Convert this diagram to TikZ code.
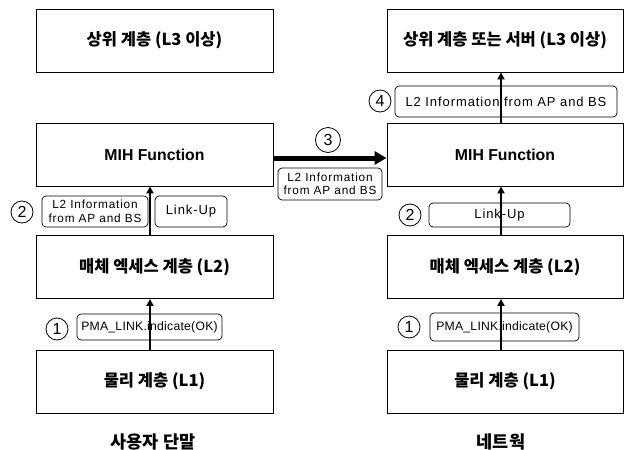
\documentclass[tikz,border=0pt]{standalone}
\usepackage{fontspec}
\setmainfont{Liberation Sans}
\newfontfamily\kr{Noto Sans CJK KR}
\newfontfamily\lbl[LetterSpace=7]{Liberation Sans}
\newfontfamily\lbltight[LetterSpace=2]{Liberation Sans}
\usetikzlibrary{arrows.meta}
\tikzset{
  layer/.style={draw, line width=0.9pt, minimum width=237pt, minimum height=63pt, inner sep=0pt,
    font=\kr\bfseries\fontsize{16.5}{19}\selectfont},
  mih/.style={layer, font=\bfseries\fontsize{15.8}{19}\selectfont},
  tag/.style={draw, rounded corners=4pt, line width=0.7pt, inner sep=0pt, align=center,
    font=\lbl\fontsize{13}{15}\selectfont},
  tagsmall/.style={tag, font=\lbl\fontsize{11.8}{13.5}\selectfont},
  tagpma/.style={tag, font=\lbltight\fontsize{12.2}{14}\selectfont},
  num/.style={draw, circle, line width=0.8pt, minimum size=22pt, inner sep=0pt,
    font=\fontsize{16}{16}\selectfont},
  uparrow/.style={line width=2.6pt, -{Triangle[length=7pt,width=7pt]}},
  bigarrow/.style={line width=5pt, -{Triangle[length=12pt,width=13pt]}},
  caption/.style={font=\kr\bfseries\fontsize{17.5}{20}\selectfont, inner sep=0pt}
}
\begin{document}
\begin{tikzpicture}[x=1pt,y=-1pt]
\useasboundingbox (0,0) rectangle (630,450);
% left column
\node[layer] (ltop) at (154.5,40.5) {상위 계층 (L3 이상)};
\node[mih] (lmih) at (154.5,154.5) {MIH Function};
\node[layer] (ll2) at (154.5,267) {매체 엑세스 계층 (L2)};
\node[layer] (ll1) at (154.5,381.5) {물리 계층 (L1)};
% right column
\node[layer, minimum width=236pt] (rtop) at (505,40.5) {상위 계층 또는 서버 (L3 이상)};
\node[mih, minimum width=236pt] (rmih) at (505,154.5) {MIH Function};
\node[layer, minimum width=236pt] (rl2) at (505,267) {매체 엑세스 계층 (L2)};
\node[layer, minimum width=236pt] (rl1) at (505,381.5) {물리 계층 (L1)};
% labels
\node[tagsmall, minimum width=106pt, minimum height=31pt] (linfo) at (95,211.5) {L2 Information\\from AP and BS};
\node[tag, minimum width=72pt, minimum height=31pt] (lup) at (191,211.5) {Link-Up};
\node[num] (n2l) at (22,212) {2};
\node[tagpma, minimum width=145pt, minimum height=26pt] (lpma) at (149.5,327) {PMA\_LINK.indicate(OK)};
\node[num] (n1l) at (57,329) {1};
\node[tagsmall, minimum width=104pt, minimum height=32pt] (minfo) at (330,184) {L2 Information\\from AP and BS};
\node[num, minimum size=25pt] (n3) at (328,140) {3};
\node[tag, minimum width=222pt, minimum height=31pt] (rinfo) at (506,101.5) {L2 Information from AP and BS};
\node[num] (n4) at (380,101) {4};
\node[tag, minimum width=141pt, minimum height=24pt] (rup) at (499.5,215) {Link-Up};
\node[num] (n2r) at (410,215) {2};
\node[tagpma, minimum width=149pt, minimum height=28pt] (rpma) at (504.5,327) {PMA\_LINK.indicate(OK)};
\node[num] (n1r) at (409,327) {1};
% arrows
\draw[uparrow] ([xshift=-4.5pt]ll1.north) -- ([xshift=-4.5pt]ll2.south);
\draw[uparrow] ([xshift=-4.5pt]ll2.north) -- ([xshift=-4.5pt]lmih.south);
\draw[uparrow] ([xshift=-4pt]rl1.north) -- ([xshift=-4pt]rl2.south);
\draw[uparrow] ([xshift=-4pt]rl2.north) -- ([xshift=-4pt]rmih.south);
\draw[uparrow] ([xshift=-4pt]rmih.north) -- ([xshift=-4pt]rtop.south);
\draw[bigarrow] ([yshift=-3.5pt]lmih.east) -- ([yshift=-3.5pt]rmih.west);
% captions
\node[caption] (ue) at (153,442) {사용자 단말};
\node[caption] (net) at (501,442) {네트웍};
\end{tikzpicture}
\end{document}
